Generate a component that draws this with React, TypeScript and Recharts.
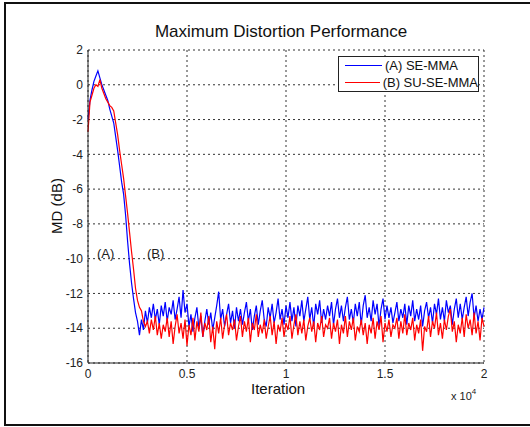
import { LineChart, Line, XAxis, YAxis, CartesianGrid } from "recharts";

// iterations are sampled every 100 steps, 0 .. 20000
const STEP = 100;

const seA = [
  -2.0, -0.9, -0.3, 0.2, 0.5, 0.8, 0.4, 0.0, -0.3, -0.6,
  -0.9, -1.4, -1.8, -2.2, -3.0, -3.8, -4.7, -5.6, -6.3, -7.5,
  -9.0, -10.3, -11.4, -12.3, -13.1, -13.6, -14.4, -13.5, -14.1,
  -13.0, -13.7, -12.8, -13.4, -12.6, -13.5, -12.9, -13.8, -12.7, -13.3,
  -12.5, -13.6, -12.8, -13.2, -12.4, -13.5, -12.9, -12.2, -13.4, -11.8,
  -13.1, -12.6, -13.9, -13.2, -14.2, -13.4, -12.8, -14.0, -13.3, -14.5,
  -13.6, -12.9, -13.8, -13.1, -14.1, -13.4, -12.7, -11.9, -13.5, -12.9,
  -13.9, -13.2, -12.6, -13.7, -13.0, -14.0, -12.8, -13.6, -12.9, -13.8,
  -13.1, -12.5, -13.6, -12.9, -14.1, -13.3, -12.7, -13.8, -13.0, -12.4,
  -13.5, -13.9, -12.8, -13.4, -12.6, -13.7, -13.1, -12.3, -13.5, -12.9,
  -13.8, -12.7, -13.4, -12.5, -13.6, -12.8, -13.9, -12.7, -13.3, -12.4,
  -13.6, -12.9, -12.2, -13.5, -12.8, -13.9, -12.6, -13.2, -12.4, -13.7,
  -12.9, -13.5, -12.7, -13.3, -12.5, -13.8, -12.9, -12.3, -13.4, -12.7,
  -13.6, -12.8, -12.2, -13.5, -12.9, -13.7, -12.6, -13.3, -12.5, -13.8,
  -12.7, -12.1, -13.4, -12.8, -13.6, -12.4, -13.2, -12.6, -13.9, -12.9,
  -12.3, -13.5, -12.7, -13.4, -12.8, -13.7, -13.1, -12.5, -13.6, -12.9,
  -13.4, -12.6, -13.8, -12.7, -13.3, -12.4, -13.6, -12.9, -13.5, -12.7,
  -13.9, -13.0, -12.5, -13.4, -12.8, -13.7, -12.6, -13.2, -12.3, -13.5,
  -12.8, -13.6, -12.4, -13.1, -12.7, -13.8, -12.9, -12.3, -13.4, -12.6,
  -13.5, -12.8, -12.2, -13.3, -12.5, -12.0, -13.4, -12.7, -13.6, -12.9,
  -13.5, -12.8,
];

const suseB = [
  -2.7, -1.0, -0.6, -0.2, 0.0, -0.1, 0.3, -0.2, -0.5, -0.8,
  -1.0, -1.2, -1.3, -1.5, -2.2, -2.9, -3.8, -4.6, -5.4, -6.4,
  -7.4, -8.5, -9.6, -10.6, -11.7, -12.4, -12.8, -13.0, -13.6, -13.9,
  -13.6, -14.3, -13.5, -14.1, -13.3, -14.4, -13.7, -14.6, -13.8, -14.2,
  -13.4, -14.5, -13.6, -14.9, -13.9, -13.2, -14.3, -13.7, -14.6, -13.5,
  -15.0, -13.8, -14.4, -13.4, -14.7, -13.6, -14.2, -13.1, -14.5, -13.7,
  -14.1, -13.3, -14.8, -13.9, -15.2, -13.6, -14.3, -13.4, -14.6, -13.8,
  -13.2, -14.4, -13.7, -14.1, -13.5, -14.7, -13.9, -13.3, -14.5, -13.6,
  -14.2, -13.4, -14.8, -13.7, -14.1, -13.2, -14.5, -13.8, -14.3, -13.5,
  -14.6, -13.9, -13.3, -14.4, -13.6, -14.9, -13.8, -14.2, -13.4, -14.5,
  -13.7, -14.1, -13.3, -14.6, -13.8, -13.2, -14.4, -13.6, -14.3, -13.5,
  -14.7, -13.9, -13.4, -14.2, -13.6, -14.8, -13.7, -14.1, -13.3, -14.5,
  -13.8, -14.0, -13.4, -14.6, -13.7, -14.2, -13.5, -14.9, -13.8, -14.3,
  -13.3, -14.5, -13.6, -14.1, -13.4, -14.7, -13.9, -14.2, -13.5, -14.4,
  -13.7, -14.9, -13.8, -14.3, -13.4, -14.6, -13.6, -14.1, -13.3, -14.8,
  -13.7, -14.2, -13.5, -14.5, -13.8, -14.0, -13.4, -14.6, -13.6, -14.3,
  -13.2, -14.4, -13.7, -14.1, -13.4, -14.7, -13.8, -14.3, -13.5, -15.3,
  -13.9, -14.2, -13.3, -14.5, -13.6, -14.0, -13.1, -14.4, -13.7, -14.6,
  -13.5, -14.1, -13.3, -12.9, -14.2, -13.6, -14.8, -13.8, -14.3, -13.4,
  -14.5, -13.2, -14.0, -13.5, -14.4, -13.1, -14.3, -13.6, -14.7, -13.4,
  -13.9,
];

const xTicks = [0, 5000, 10000, 15000, 20000];
const yTicks = [-16, -14, -12, -10, -8, -6, -4, -2, 0, 2];

const rows = seA.map((a, i) => ({ it: i * STEP, a, b: suseB[i] }));

const font = "'Liberation Sans', Arial, Helvetica, sans-serif";

function LegendBox() {
  const items = [
    { name: "(A) SE-MMA", color: "#0000ff" },
    { name: "(B) SU-SE-MMA", color: "#ff0000" },
  ];
  return (
    <div
      style={{
        position: "absolute",
        left: 338,
        top: 56,
        width: 139,
        height: 34,
        boxSizing: "content-box",
        background: "#fff",
        border: "1px solid #222",
        fontSize: 13,
        color: "#111",
        lineHeight: "17px",
        whiteSpace: "nowrap",
      }}
    >
      {items.map((it) => (
        <div key={it.name} style={{ display: "flex", alignItems: "center", paddingLeft: 6 }}>
          <span style={{ display: "inline-block", width: 37, height: 1, background: it.color, marginRight: 3 }} />
          <span>{it.name}</span>
        </div>
      ))}
    </div>
  );
}

export default function App() {
  return (
    <div style={{ position: "absolute", left: 0, top: 0, width: 530, height: 427, background: "#fff", overflow: "hidden", fontFamily: font }}>
      <div style={{ position: "absolute", left: 4, top: 2, width: 540, height: 420, border: "2px solid #111" }} />
      <div style={{ position: "absolute", left: 0, width: 562, top: 22, textAlign: "center", fontSize: 17, color: "#111" }}>
        Maximum Distortion Performance
      </div>
      <LineChart
        width={530}
        height={427}
        data={rows}
        margin={{ top: 50, right: 46, bottom: 34, left: 0 }}
        style={{ position: "absolute", left: 0, top: 0 }}
      >
        <CartesianGrid stroke="#333" strokeDasharray="2 3" strokeWidth={1} />
        <XAxis
          dataKey="it"
          type="number"
          domain={[0, 20000]}
          ticks={xTicks}
          tickFormatter={(v) => `${v / 10000}`}
          height={30}
          tickSize={0}
          tickMargin={6}
          stroke="#222"
          tick={{ fill: "#222", fontSize: 12 }}
        />
        <XAxis xAxisId="top" orientation="top" type="number" domain={[0, 20000]} ticks={[]} height={0} stroke="#222" />
        <YAxis
          domain={[-16, 2]}
          ticks={yTicks}
          width={88}
          tickSize={0}
          tickMargin={5}
          stroke="#222"
          tick={{ fill: "#222", fontSize: 12 }}
          allowDataOverflow
        />
        <YAxis yAxisId="right" orientation="right" domain={[-16, 2]} ticks={[]} width={0} stroke="#888" strokeWidth={2} />
        <Line dataKey="a" name="(A) SE-MMA" stroke="#0000ff" strokeWidth={1.2} dot={false} isAnimationActive={false} />
        <Line dataKey="b" name="(B) SU-SE-MMA" stroke="#ff0000" strokeWidth={1.2} dot={false} isAnimationActive={false} />
      </LineChart>
      <LegendBox />
      <div style={{ position: "absolute", left: 251, top: 380, fontSize: 15, color: "#111" }}>Iteration</div>
      <div
        style={{
          position: "absolute",
          left: 56,
          top: 206,
          fontSize: 15,
          color: "#111",
          transform: "translate(-50%, -50%) rotate(-90deg)",
          whiteSpace: "nowrap",
        }}
      >
        MD (dB)
      </div>
      <div style={{ position: "absolute", left: 451, top: 387, fontSize: 11, color: "#222" }}>
        x 10<sup style={{ fontSize: 8, verticalAlign: "6px" }}>4</sup>
      </div>
      <div style={{ position: "absolute", left: 97, top: 246, fontSize: 13, color: "#222" }}>(A)</div>
      <div style={{ position: "absolute", left: 147, top: 246, fontSize: 13, color: "#222" }}>(B)</div>
    </div>
  );
}
